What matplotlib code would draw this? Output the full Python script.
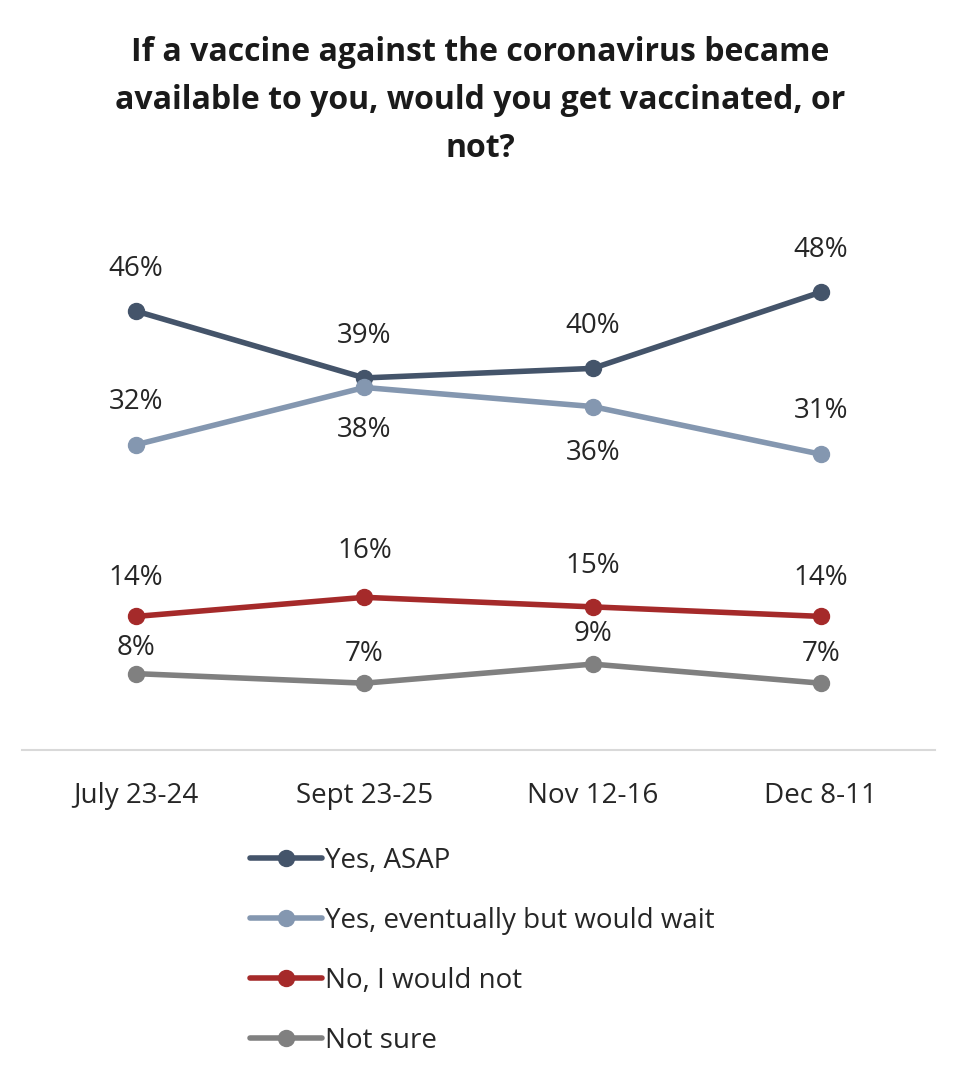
import matplotlib.pyplot as plt

plt.rcParams['font.family'] = ['Open Sans', 'DejaVu Sans']

waves = ['July 23-24', 'Sept 23-25', 'Nov 12-16', 'Dec 8-11']
yes_asap = [46, 39, 40, 48]
yes_wait = [32, 38, 36, 31]
no_not = [14, 16, 15, 14]
not_sure = [8, 7, 9, 7]

series = [
    ('Yes, ASAP', yes_asap, '#44546A', [42, 42, 42, 42]),
    ('Yes, eventually but would wait', yes_wait, '#8497B0', [43, -43, -46, 43]),
    ('No, I would not', no_not, '#A52A2A', [38, 46, 41, 38]),
    ('Not sure', not_sure, '#808080', [26, 29, 30, 29]),
]

fs = 20

fig = plt.figure(figsize=(9.6, 10.85), dpi=100)
ax = fig.add_axes([0.023, 0.3088, 0.951, 0.5275])

x = list(range(len(waves)))
for name, vals, col, offs in series:
    ax.plot(x, vals, color=col, linewidth=4, marker='o', markersize=11.5,
            label=name, solid_capstyle='round')
    for xi, v, off in zip(x, vals, offs):
        ax.annotate(f'{v}%', (xi, v), xytext=(0, off), textcoords='offset pixels',
                    ha='center', va='center', fontsize=fs, color='#262626')

ax.set_xlim(-0.5, 3.5)
ax.set_ylim(0, 60)
ax.set_yticks([])
ax.set_xticks(x)
ax.set_xticklabels(waves, fontsize=fs, color='#262626')
ax.tick_params(axis='x', length=0, pad=23)
for s in ['top', 'left', 'right']:
    ax.spines[s].set_visible(False)
ax.spines['bottom'].set_color('#D9D9D9')
ax.spines['bottom'].set_linewidth(1.5)

fig.suptitle('If a vaccine against the coronavirus became\navailable to you, would you get vaccinated, or\nnot?',
             y=0.967, fontsize=23, fontweight='bold', color='#1a1a1a', linespacing=1.6)

fig.legend(loc='upper left', bbox_to_anchor=(225 / 960, 1 - 822 / 1085),
           frameon=False, fontsize=fs, handlelength=2.6, handletextpad=0.1,
           labelspacing=1.15, labelcolor='#262626')

fig.savefig('out.png', dpi=100, facecolor='white')
